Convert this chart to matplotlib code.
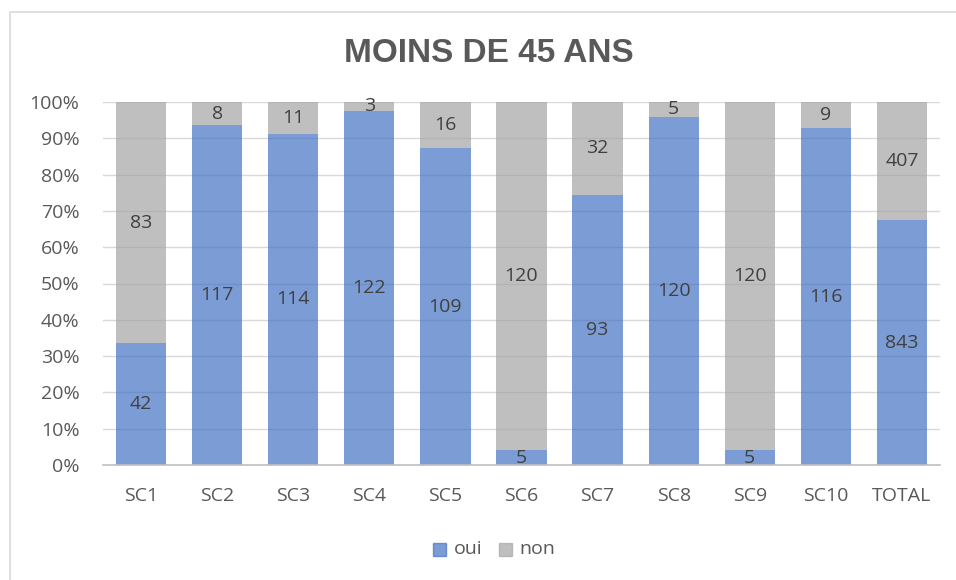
import numpy as np
import matplotlib
matplotlib.use("Agg")
import matplotlib.pyplot as plt
from matplotlib.patches import Rectangle

categories = ["SC1", "SC2", "SC3", "SC4", "SC5", "SC6", "SC7", "SC8", "SC9", "SC10", "TOTAL"]
oui = [42, 117, 114, 122, 109, 5, 93, 120, 5, 116, 843]
non = [83, 8, 11, 3, 16, 120, 32, 5, 120, 9, 407]
title = "MOINS DE 45 ANS"

blue = "#4472C4"
grey = "#A5A5A5"
txt = "#595959"
lab = "#404040"

plt.rcParams['font.family'] = ['Open Sans', 'DejaVu Sans']

oui_a = np.array(oui, dtype=float)
non_a = np.array(non, dtype=float)
tot = oui_a + non_a
p_oui = oui_a / tot
p_non = non_a / tot

fig = plt.figure(figsize=(9.56, 5.8), dpi=100)
ax = fig.add_axes([103 / 956, 1 - 465 / 580, (940 - 103) / 956, (465 - 102) / 580])

x = np.arange(len(categories))
w = 0.66
ax.bar(x, p_oui, width=w, color=blue, alpha=0.7, zorder=2)
ax.bar(x, p_non, width=w, bottom=p_oui, color=grey, alpha=0.7, zorder=2)

for i in range(len(categories)):
    ax.text(x[i], p_oui[i] / 2, str(oui[i]), ha="center", va="center",
            fontsize=14, color=lab, zorder=3)
    ax.text(x[i], p_oui[i] + p_non[i] / 2, str(non[i]), ha="center", va="center",
            fontsize=14, color=lab, zorder=3)

ax.set_xlim(-0.5, len(categories) - 0.5)
ax.set_ylim(0, 1)
ax.set_yticks(np.arange(0, 1.01, 0.1))
ax.set_yticklabels([f"{int(round(v * 100))}%" for v in np.arange(0, 1.01, 0.1)])
ax.set_xticks(x)
ax.set_xticklabels(categories)
ax.tick_params(axis="both", length=0, labelsize=14, colors=txt)
ax.tick_params(axis="x", pad=16)
ax.tick_params(axis="y", pad=17)
ax.grid(axis="y", color="#D9D9D9", linewidth=1, zorder=0)
for s in ["top", "right", "left"]:
    ax.spines[s].set_visible(False)
ax.spines["bottom"].set_color("#BFBFBF")
ax.spines["bottom"].set_linewidth(1.2)

fig.text(489 / 956, 1 - 54 / 580, title, ha="center", va="center", fontsize=24,
         fontweight="bold", color=txt, family=['Liberation Sans', 'DejaVu Sans'])

# legend
fig.patches.append(Rectangle((433 / 956, 1 - 556 / 580), 13 / 956, 13 / 580,
                             transform=fig.transFigure, color=blue, alpha=0.7, figure=fig))
fig.text(454 / 956, 1 - 549 / 580, "oui", ha="left", va="center", fontsize=14, color=txt)
fig.patches.append(Rectangle((499 / 956, 1 - 556 / 580), 13 / 956, 13 / 580,
                             transform=fig.transFigure, color=grey, alpha=0.7, figure=fig))
fig.text(519 / 956, 1 - 549 / 580, "non", ha="left", va="center", fontsize=14, color=txt)

# chart border
fig.patches.append(Rectangle((10 / 956, -0.05), 1.0, 1 - 12 / 580 + 0.05, transform=fig.transFigure,
                             fill=False, edgecolor="#D9D9D9", linewidth=1.2, figure=fig))

fig.savefig("out.png", dpi=100)
